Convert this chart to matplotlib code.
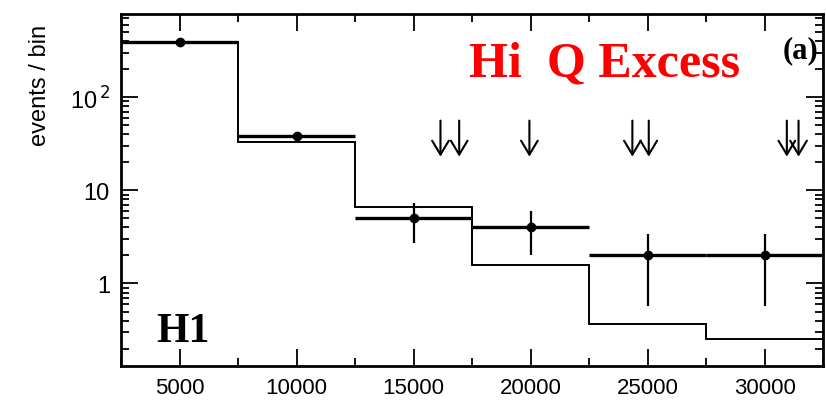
import numpy as np
import matplotlib
matplotlib.use("Agg")
import matplotlib.pyplot as plt
from matplotlib.ticker import MultipleLocator, NullFormatter

# bins in Q^2 (GeV^2)
bin_edges = [2500, 7500, 12500, 17500, 22500, 27500, 32500]
bin_centers = [5000, 10000, 15000, 20000, 25000, 30000]

# data points with errors
data = [390, 38, 5.0, 4.0, 2.0, 2.0]
data_lo = [375, 34, 2.75, 2.0, 0.58, 0.58]
data_hi = [405, 42, 7.3, 5.95, 3.4, 3.4]

# expectation (histogram)
mc = [390, 33, 6.6, 1.56, 0.37, 0.256]

# arrows marking single events
arrow_x = [16150, 16950, 19950, 24350, 25050, 30950, 31450]
arrow_top = 56
arrow_tip = 23

fig = plt.figure(figsize=(8.26, 4.06), dpi=100)
ax = fig.add_axes([0.1465, 0.096, 0.85, 0.867])

# expectation histogram
ax.stairs(mc, bin_edges, color="black", lw=1.4, baseline=None)

# data: horizontal bars thick, vertical error bars thinner
ax.hlines(data, np.array(bin_centers) - 2500, np.array(bin_centers) + 2500,
          color="black", lw=2.4)
yerr = [np.array(data) - np.array(data_lo), np.array(data_hi) - np.array(data)]
ax.errorbar(bin_centers, data, yerr=yerr, fmt="o", color="black",
            ms=6, elinewidth=1.6, capsize=0)

for x in arrow_x:
    ax.annotate("", xy=(x, arrow_tip), xytext=(x, arrow_top),
                arrowprops=dict(arrowstyle="->,head_length=1.0,head_width=0.6",
                                color="black", lw=1.5, shrinkA=0, shrinkB=0))

ax.set_yscale("log")
ax.set_xlim(2500, 32500)
ax.set_ylim(0.13, 780)

ax.set_xticks([5000, 10000, 15000, 20000, 25000, 30000])
ax.set_xticklabels(["5000", "10000", "15000", "20000", "25000", "30000"],
                   fontsize=16, fontfamily="Liberation Sans")
ax.xaxis.set_minor_locator(MultipleLocator(2500))
ax.set_yticks([1, 10, 100])
ax.set_yticklabels(["1", "10", r"10$^{\,2}$"], fontsize=17, fontfamily="Liberation Sans")
ax.yaxis.set_minor_formatter(NullFormatter())

ax.tick_params(which="both", direction="in", top=True, right=True, width=1.3)
ax.tick_params(which="major", length=12, pad=8)
ax.tick_params(which="minor", length=6)
for s in ax.spines.values():
    s.set_linewidth(2)

ax.set_ylabel("events / bin", fontsize=17, fontfamily="Liberation Sans")
ax.yaxis.set_label_coords(-0.1, 0.8)

ax.text(0.495, 0.86, "Hi  Q Excess", transform=ax.transAxes, color="red",
        fontsize=36, fontweight="bold", fontfamily="Liberation Serif", ha="left", va="center")
ax.text(0.993, 0.9, "(a)", transform=ax.transAxes, color="black",
        fontsize=22, fontweight="bold", fontfamily="Liberation Serif", ha="right", va="center")
ax.text(0.05, 0.1, "H1", transform=ax.transAxes, color="black",
        fontsize=30, fontweight="bold", fontfamily="Liberation Serif", ha="left", va="center")

fig.savefig("out.png", dpi=100)
